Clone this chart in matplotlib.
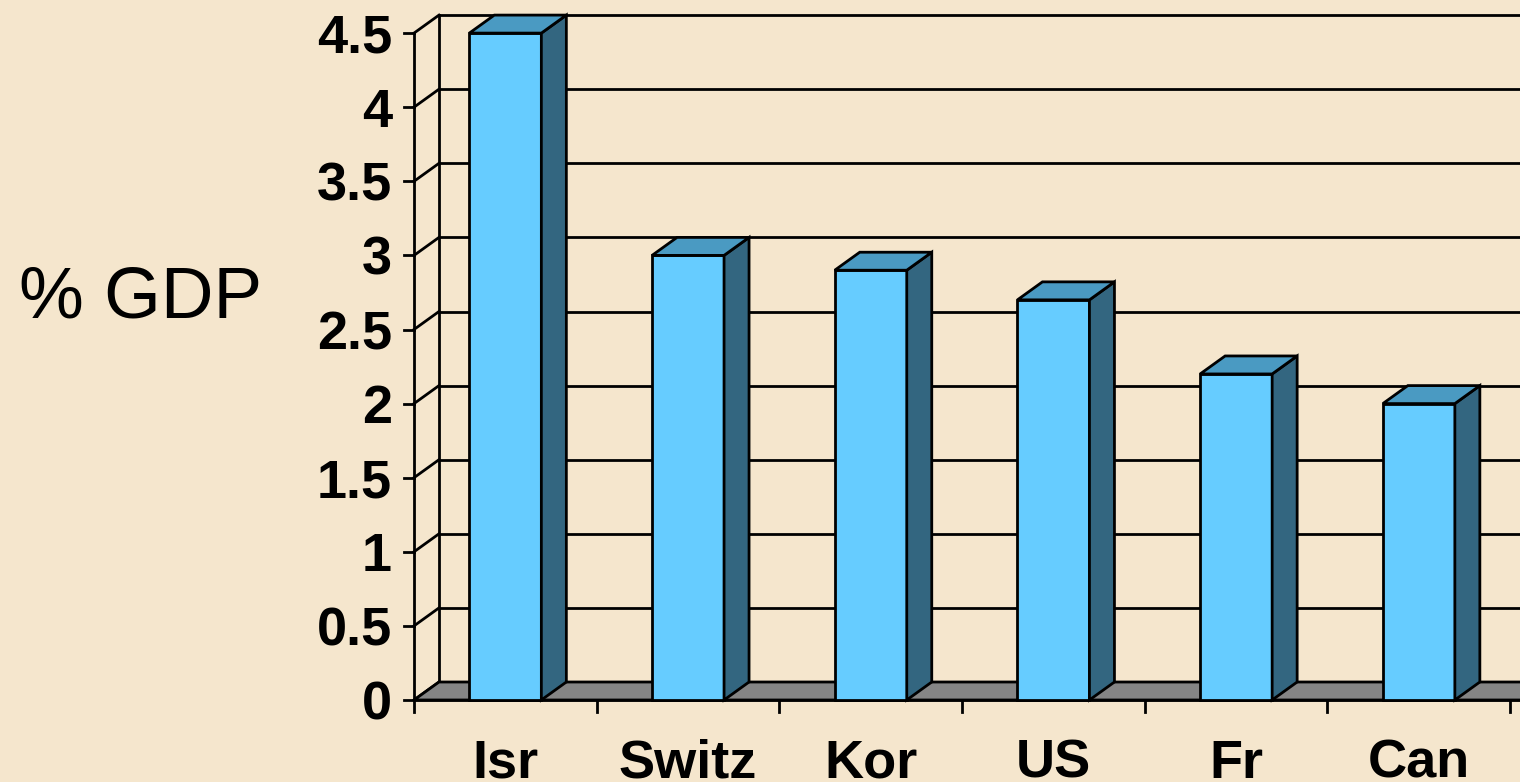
import matplotlib.pyplot as plt
from matplotlib.patches import Polygon

# ============================================================
# Podatki
# ============================================================

countries = ["Isr", "Switz", "Kor", "US", "Fr", "Can"]
values = [4.5, 3.0, 2.9, 2.7, 2.2, 2.0]
y_ticks = [0, 0.5, 1, 1.5, 2, 2.5, 3, 3.5, 4, 4.5]
y_tick_labels = ["0", "0.5", "1", "1.5", "2", "2.5", "3", "3.5", "4", "4.5"]

# ============================================================
# Izgled
# ============================================================

bg = "#F5E6CD"
c_front = "#66CCFF"
c_side = "#336680"
c_top = "#4A9AC2"
c_floor = "#858585"
lw = 2.0

# skala: px na enoto (os x = kategorije, os y = % GDP)
px_x = 182.7
px_y = 148.2
dx = 25 / px_x      # globina v smeri x
dy = 18 / px_y      # globina v smeri y
bar_w = 72 / px_x
x_end = 6.3         # desni rob (slika je odrezana)

plt.rcParams["font.family"] = ["Liberation Sans", "DejaVu Sans"]

fig = plt.figure(figsize=(15.2, 7.82), dpi=100)
fig.patch.set_facecolor(bg)
ax = fig.add_axes([0, 0, 1, 1])
ax.set_facecolor(bg)
ax.set_xlim(-414 / px_x, (1520 - 414) / px_x)
ax.set_ylim(-82 / px_y, (782 - 82) / px_y)
ax.axis("off")

# ============================================================
# Zadnja stena in mreža
# ============================================================

top = y_ticks[-1]
for v, lab in zip(y_ticks, y_tick_labels):
    ax.plot([0, dx], [v, v + dy], color="black", lw=lw, zorder=1)
    ax.plot([dx, x_end], [v + dy, v + dy], color="black", lw=lw, zorder=1)
    ax.plot([-10 / px_x, 0], [v, v], color="black", lw=lw, zorder=1)
    ax.text(-22 / px_x, v - 19.5 / px_y, lab,
            ha="right", va="baseline", fontsize=39, fontweight="bold")

ax.plot([0, 0], [0, top], color="black", lw=lw, zorder=1)
ax.plot([dx, dx], [dy, top + dy], color="black", lw=lw, zorder=1)

# tla
floor = Polygon([[0, 0], [dx, dy], [x_end + dx, dy], [x_end, 0]],
                closed=True, facecolor=c_floor, edgecolor="black", lw=lw, zorder=2)
ax.add_patch(floor)
ax.plot([0, x_end], [0, 0], color="black", lw=lw, zorder=2)

# x kljukice
for i in range(len(countries) + 1):
    ax.plot([i, i], [0, -12 / px_y], color="black", lw=lw, zorder=2)

# ============================================================
# Stolpci
# ============================================================

for i, (name, v) in enumerate(zip(countries, values)):
    x0 = i + 0.5 - bar_w / 2
    x1 = i + 0.5 + bar_w / 2
    front = Polygon([[x0, 0], [x0, v], [x1, v], [x1, 0]],
                    facecolor=c_front, edgecolor="black", lw=lw, zorder=3)
    side = Polygon([[x1, 0], [x1 + dx, dy], [x1 + dx, v + dy], [x1, v]],
                   facecolor=c_side, edgecolor="black", lw=lw, zorder=3)
    cap = Polygon([[x0, v], [x0 + dx, v + dy], [x1 + dx, v + dy], [x1, v]],
                  facecolor=c_top, edgecolor="black", lw=lw, zorder=3)
    for p in (front, side, cap):
        ax.add_patch(p)

    ax.text(i + 0.5, -78 / px_y, name, ha="center", va="baseline",
            fontsize=39, fontweight="bold")

# oznaka osi y
ax.text(-273 / px_x, 383 / px_y, "% GDP", ha="center", va="baseline", fontsize=52.5)

plt.savefig("out.png", dpi=100, facecolor=bg)
